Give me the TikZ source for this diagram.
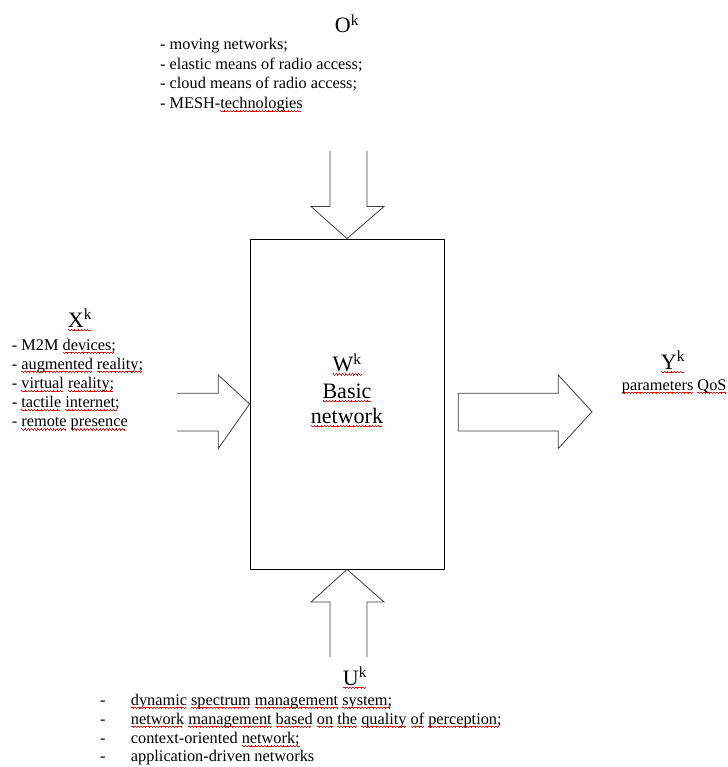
\documentclass[tikz,border=0pt]{standalone}
\usepackage{fontspec}
\setmainfont{Liberation Serif}
\newcommand\wvunit{\hbox{%
  \vrule width 0.8pt height -1.6pt depth 2.5pt%
  \vrule width 0.8pt height -2.2pt depth 3.1pt%
  \vrule width 0.8pt height -2.8pt depth 3.7pt%
  \vrule width 0.8pt height -2.2pt depth 3.1pt}}
\newcommand\wv[1]{\setbox0\hbox{#1}\leavevmode\rlap{\color{red}\hbox to \wd0{\leaders\wvunit\hfil}}\box0\relax}
\tikzset{
  small/.style={font=\fontsize{16.3}{19}\selectfont, inner sep=0pt, anchor=base west},
  big/.style={font=\fontsize{22}{26}\selectfont, inner sep=0pt, anchor=base},
  blockarrow/.style={draw=black!75, line width=0.8pt, line join=miter},
  boxst/.style={draw=black, line width=0.8pt, inner sep=0pt, minimum width=194pt, minimum height=330pt}
}
\begin{document}
\begin{tikzpicture}[x=1pt,y=-1pt]
\useasboundingbox[fill=white] (0,0) rectangle (727,767);

% central box
\node[boxst] (box) at (347,404) {};
\node[big] (w) at (347,371.7) {\wv{W\textsuperscript{k}}};
\node[big] (basic) at (347,398.3) {\wv{Basic}};
\node[big] (netw) at (347,423.3) {\wv{network}};

% top
\node[big] (o) at (347,33) {O\textsuperscript{k}};
\node[small] (o1) at (160,50) {- moving networks;};
\node[small] (o2) at (160,69.5) {- elastic means of radio access;};
\node[small] (o3) at (160,89) {- cloud means of radio access;};
\node[small] (o4) at (160,108.5) {- MESH-\wv{technologies}};
\draw[blockarrow] (330,151) -- (330,206.5) -- (311,206.5) -- (box.north) -- (384,206.5) -- (367,206.5) -- (367,151);

% left
\node[big] (x) at (80,327.3) {\wv{X\textsuperscript{k}}};
\node[small] (x1) at (11.7,350) {- M2M \wv{devices;}};
\node[small] (x2) at (11.7,369.2) {- \wv{augmented} \wv{reality;}};
\node[small] (x3) at (11.7,388.4) {- \wv{virtual} \wv{reality;}};
\node[small] (x4) at (11.7,407.6) {- \wv{tactile} \wv{internet;}};
\node[small] (x5) at (11.7,426.8) {- \wv{remote} \wv{presence}};
\draw[blockarrow] (177,393.3) -- (218.3,393.3) -- (218.3,375) -- (box.west) -- (218.3,448.5) -- (218.3,431) -- (177,431);

% right
\coordinate (rt) at (592,411.7);
\draw[blockarrow] (458.3,393.3) -- (558.3,393.3) -- (558.3,375) -- (rt) -- (558.3,448.5) -- (558.3,431) -- (458.3,431) -- cycle;
\node[big] (y) at (673,369.3) {\wv{Y\textsuperscript{k}}};
\node[small] (y1) at (621.7,390) {\wv{parameters} \wv{QoS}};

% bottom
\draw[blockarrow] (330,657) -- (330,602) -- (311,602) -- (box.south) -- (384,602) -- (367,602) -- (367,657);
\node[big] (u) at (355,685) {\wv{U\textsuperscript{k}}};
\node[small] (d1) at (100,705) {-};
\node[small] (u1) at (130.7,705) {\wv{dynamic} \wv{spectrum} \wv{management} \wv{system;}};
\node[small] (d2) at (100,724) {-};
\node[small] (u2) at (130.7,724) {\wv{network} \wv{management} \wv{based} \wv{on} \wv{the} \wv{quality} \wv{of} \wv{perception;}};
\node[small] (d3) at (100,743.3) {-};
\node[small] (u3) at (130.7,743.3) {context-oriented \wv{network;}};
\node[small] (d4) at (100,761.7) {-};
\node[small] (u4) at (130.7,761.7) {application-driven networks};
\end{tikzpicture}
\end{document}
